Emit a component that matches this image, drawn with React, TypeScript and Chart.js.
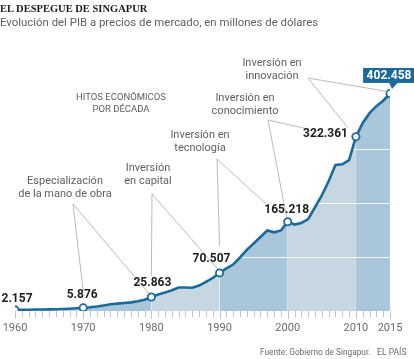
import React, { useEffect, useRef } from "react";
import { Chart, registerables } from "chart.js";
Chart.register(...registerables);

const years: number[] = [
  1960, 1961, 1962, 1963, 1964, 1965, 1966, 1967, 1968, 1969,
  1970, 1971, 1972, 1973, 1974, 1975, 1976, 1977, 1978, 1979,
  1980, 1981, 1982, 1983, 1984, 1985, 1986, 1987, 1988, 1989,
  1990, 1991, 1992, 1993, 1994, 1995, 1996, 1997, 1998, 1999,
  2000, 2001, 2002, 2003, 2004, 2005, 2006, 2007, 2008, 2009,
  2010, 2011, 2012, 2013, 2014, 2015,
];
const gdp: number[] = [
  2157, 2300, 2450, 2750, 2700, 2950, 3300, 3700, 4300, 5000,
  5876, 6800, 8200, 10300, 12500, 13600, 14800, 16000, 18000, 21000,
  25863, 30500, 34000, 38500, 43500, 43500, 43000, 47000, 54000, 61000,
  70507, 79000, 86000, 99000, 113000, 125000, 137000, 149000, 145500, 149000,
  165218, 160000, 163000, 170000, 192000, 214000, 240000, 270000, 271500, 279000,
  322361, 348000, 366000, 379000, 389000, 402458,
];
const labeledYears: number[] = [1960, 1970, 1980, 1990, 2000, 2010, 2015];
const labelTexts: string[] = ["2.157", "5.876", "25.863", "70.507", "165.218", "322.361", "402.458"];
const tickLabelYears: number[] = [1960, 1970, 1980, 1990, 2000, 2010, 2015];
const gridValues: number[] = [100000, 200000, 300000, 400000];
const bandStarts: number[] = [1960, 1970, 1980, 1990, 2000, 2010];
const bandEnds: number[] = [1970, 1980, 1990, 2000, 2010, 2015];
const milestoneLines: string[][] = [
  ["Especialización", "de la mano de obra"],
  ["Inversión", "en capital"],
  ["Inversión en", "tecnología"],
  ["Inversión en", "conocimiento"],
  ["Inversión en", "innovación"],
];
// decade each milestone refers to (start year, end year)
const milestoneFrom: number[] = [1970, 1980, 1990, 2000, 2010];
const milestoneTo: number[] = [1980, 1990, 2000, 2010, 2015];

// ---- styles / layout ----
const LINE = "#1b6a9a";
const BAND_DARK = "#a9c6da";
const BAND_LIGHT = "#c7d7e2";
const bandColors = [BAND_LIGHT, BAND_DARK, BAND_LIGHT, BAND_DARK, BAND_LIGHT, BAND_DARK];
const labelOffsets: { dx: number; dy: number; align: CanvasTextAlign }[] = [
  { dx: 2, dy: -11, align: "center" },
  { dx: -1, dy: -13, align: "center" },
  { dx: 1, dy: -14, align: "center" },
  { dx: -8, dy: -14, align: "center" },
  { dx: -1, dy: -12, align: "center" },
  { dx: -8, dy: -3, align: "right" },
  { dx: -1, dy: -18, align: "center" },
];
// annotation text boxes (center x, first line center y)
const notePos = [
  { cx: 65, cy: 180 },
  { cx: 148, cy: 167 },
  { cx: 200, cy: 134 },
  { cx: 245, cy: 97 },
  { cx: 272, cy: 62 },
];
const apex = [
  { x: 73, y: 204 },
  { x: 152, y: 194 },
  { x: 217, y: 159 },
  { x: 268, y: 120 },
  { x: 308, y: 78 },
];
const endOffFrom = [
  { dx: 0, dy: -17 },
  { dx: 0, dy: -21 },
  { dx: 0, dy: -27 },
  { dx: -1, dy: -4 },
  { dx: -8, dy: -9 },
];
const endOffTo = [
  { dx: -3, dy: -4 },
  { dx: -2, dy: -4 },
  { dx: -22, dy: -18 },
  { dx: -49, dy: -8 },
  { dx: -3, dy: -2 },
];

const valueOf = (yr: number) => gdp[years.indexOf(yr)];

const overlay = {
  id: "overlay",
  beforeDatasetDraw(chart: any, args: any) {
    if (args.index !== 0) return;
    const { ctx, chartArea, scales } = chart;
    ctx.save();
    ctx.strokeStyle = "rgba(255,255,255,0.85)";
    ctx.lineWidth = 1;
    gridValues.forEach((v) => {
      const y = Math.round(scales.y.getPixelForValue(v)) + 0.5;
      ctx.beginPath();
      ctx.moveTo(chartArea.left, y);
      ctx.lineTo(chartArea.right, y);
      ctx.stroke();
    });
    ctx.restore();
  },
  afterDraw(chart: any) {
    const { ctx, chartArea, scales } = chart;
    const xs = scales.x;
    const ys = scales.y;
    ctx.save();
    // ticks
    ctx.strokeStyle = "#c4c4c4";
    ctx.lineWidth = 1;
    years.forEach((yr) => {
      const x = Math.round(xs.getPixelForValue(yr)) + 0.5;
      const len = yr % 10 === 0 || yr === 2015 ? 8 : 6;
      ctx.beginPath();
      ctx.moveTo(x, chartArea.bottom);
      ctx.lineTo(x, chartArea.bottom + len);
      ctx.stroke();
    });
    // year labels
    ctx.fillStyle = "#6b6b6b";
    ctx.font = "11px Roboto";
    ctx.textAlign = "center";
    ctx.textBaseline = "middle";
    tickLabelYears.forEach((yr) => {
      ctx.fillText(String(yr), xs.getPixelForValue(yr), chartArea.bottom + 17.5);
    });
    // leader lines
    ctx.strokeStyle = "#a8a8a8";
    ctx.lineWidth = 0.8;
    apex.forEach((a, i) => {
      const f = milestoneFrom[i];
      const t = milestoneTo[i];
      const fx = xs.getPixelForValue(f) + endOffFrom[i].dx;
      const fy = ys.getPixelForValue(valueOf(f)) + endOffFrom[i].dy;
      const tx = xs.getPixelForValue(t) + endOffTo[i].dx;
      const ty = ys.getPixelForValue(valueOf(t)) + endOffTo[i].dy;
      ctx.beginPath();
      ctx.moveTo(fx, fy);
      ctx.lineTo(a.x, a.y);
      ctx.lineTo(tx, ty);
      ctx.stroke();
    });
    // value labels
    ctx.font = "bold 12px Roboto";
    ctx.textBaseline = "middle";
    labeledYears.forEach((yr, i) => {
      const px = xs.getPixelForValue(yr);
      const py = ys.getPixelForValue(valueOf(yr));
      const o = labelOffsets[i];
      const lx = px + o.dx;
      const ly = py + o.dy;
      if (i === labeledYears.length - 1) {
        const w = ctx.measureText(labelTexts[i]).width + 7;
        const h = 15;
        ctx.fillStyle = LINE;
        ctx.fillRect(lx - w / 2, ly - h / 2, w, h);
        ctx.beginPath();
        ctx.moveTo(px - 1, ly + h / 2 - 0.5);
        ctx.lineTo(px + 8, ly + h / 2 - 0.5);
        ctx.lineTo(px + 2, ly + h / 2 + 6);
        ctx.closePath();
        ctx.fill();
        ctx.fillStyle = "#ffffff";
        ctx.textAlign = "center";
        ctx.fillText(labelTexts[i], lx, ly + 0.5);
      } else {
        ctx.fillStyle = "#1e1e1e";
        ctx.textAlign = o.align;
        ctx.fillText(labelTexts[i], lx, ly);
      }
    });
    ctx.restore();
  },
};

export default function App() {
  const ref = useRef<HTMLCanvasElement | null>(null);
  useEffect(() => {
    if (!ref.current) return;
    const bandSets = bandStarts.map((s, bi) => ({
      data: years
        .map((yr, i) => ({ x: yr, y: gdp[i] }))
        .filter((p) => p.x >= s && p.x <= bandEnds[bi]),
      fill: "origin",
      backgroundColor: bandColors[bi],
      borderWidth: 0,
      pointRadius: 0,
      order: 1,
    }));
    const chart = new Chart(ref.current, {
      type: "line",
      data: {
        datasets: [
          {
            data: years.map((yr, i) => ({ x: yr, y: gdp[i] })),
            borderColor: LINE,
            borderWidth: 2.6,
            fill: false,
            pointRadius: (c: any) => (labeledYears.includes(years[c.dataIndex]) ? 3.6 : 0),
            pointBackgroundColor: "#ffffff",
            pointBorderColor: LINE,
            pointBorderWidth: 1.8,
            order: 0,
          },
          ...bandSets,
        ] as any,
      },
      options: {
        responsive: false,
        animation: false,
        devicePixelRatio: 1,
        layout: { padding: { left: 15, right: 24, top: 84, bottom: 48 } },
        scales: {
          x: { type: "linear", min: 1960, max: 2015, display: false },
          y: { type: "linear", min: 0, max: 420000, display: false },
        },
        plugins: { legend: { display: false }, tooltip: { enabled: false } },
        elements: { line: { tension: 0 } },
      },
      plugins: [overlay],
    });
    return () => chart.destroy();
  }, []);

  const noteStyle = (cx: number, cy: number): React.CSSProperties => ({
    position: "absolute",
    left: cx - 70,
    top: cy - 6.4,
    width: 140,
    textAlign: "center",
    font: "11px Roboto",
    lineHeight: "13px",
    color: "#5f5f5f",
    whiteSpace: "nowrap",
  });

  return (
    <div style={{ position: "fixed", left: 0, top: 0, width: 414, height: 359, background: "#fff", overflow: "hidden" }}>
      <canvas ref={ref} width={414} height={359} style={{ position: "absolute", left: 0, top: 0 }} />
      <div style={{ position: "absolute", left: 0, top: 3.4, font: "bold 10.5px 'Liberation Serif'", lineHeight: "12px", color: "#1a1a1a", whiteSpace: "nowrap" }}>
        EL DESPEGUE DE SINGAPUR
      </div>
      <div style={{ position: "absolute", left: 0, top: 16.3, font: "11.4px Roboto", lineHeight: "13px", color: "#5f5f5f", whiteSpace: "nowrap" }}>
        Evolución del PIB a precios de mercado, en millones de dólares
      </div>
      <div style={{ position: "absolute", left: 121 - 70, top: 97 - 6, width: 140, textAlign: "center", font: "9.5px Roboto", lineHeight: "12px", color: "#5f5f5f" }}>
        HITOS ECONÓMICOS
        <br />
        POR DÉCADA
      </div>
      {milestoneLines.map((lines, i) => (
        <div key={i} style={noteStyle(notePos[i].cx, notePos[i].cy)}>
          {lines[0]}
          <br />
          {lines[1]}
        </div>
      ))}
      <div style={{ position: "absolute", left: 260, top: 346, font: "8.3px Roboto", lineHeight: "12px", color: "#6b6b6b", whiteSpace: "nowrap" }}>
        Fuente: Gobierno de Singapur.
      </div>
      <div style={{ position: "absolute", left: 377, top: 346, font: "8.6px Roboto", lineHeight: "12px", color: "#6b6b6b", whiteSpace: "nowrap" }}>
        EL PAÍS
      </div>
    </div>
  );
}
